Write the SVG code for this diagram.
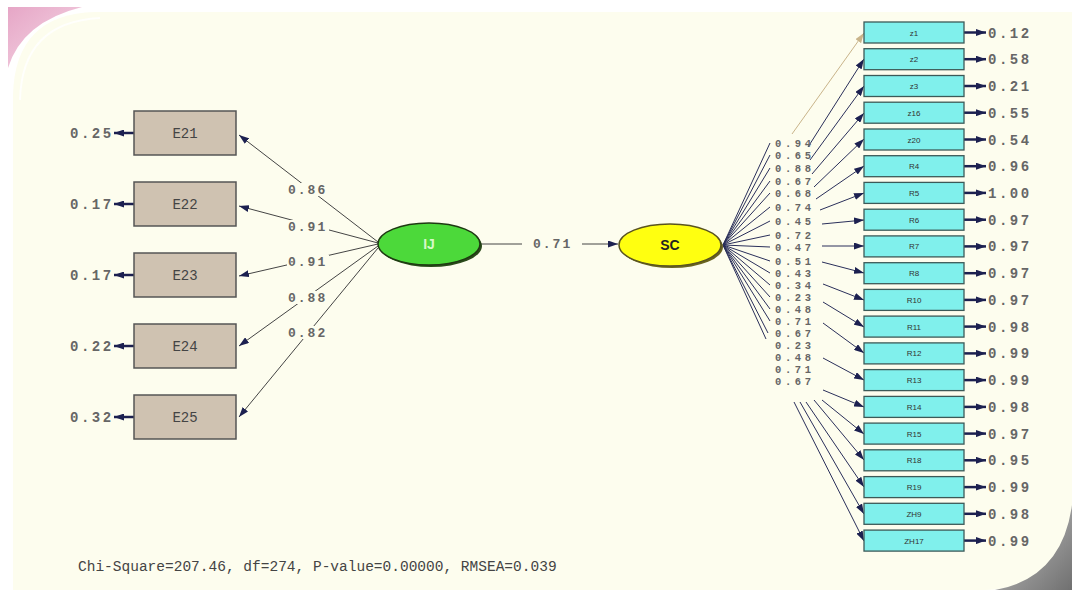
<svg xmlns="http://www.w3.org/2000/svg" width="1072" height="590" viewBox="0 0 1072 590">
<defs>
<linearGradient id="pink" x1="0" y1="0" x2="1" y2="1">
<stop offset="0" stop-color="#e6a6c6"/><stop offset="1" stop-color="#f6dbe8"/>
</linearGradient>
<linearGradient id="gray" x1="0" y1="0" x2="1" y2="1">
<stop offset="0" stop-color="#c8c8c8"/><stop offset="1" stop-color="#707070"/>
</linearGradient>
<marker id="ah" viewBox="0 0 10 7" refX="10" refY="3.5" markerWidth="10" markerHeight="7" markerUnits="userSpaceOnUse" orient="auto">
<path d="M0,0 L10,3.5 L0,7 z" fill="#1c2050"/>
</marker>
<marker id="ahl" viewBox="0 0 10 7" refX="10" refY="3.5" markerWidth="10" markerHeight="7" markerUnits="userSpaceOnUse" orient="auto">
<path d="M0,0 L10,3.5 L0,7 z" fill="#c9b48a"/>
</marker>
<style>
.num{font-family:"Liberation Mono","Courier New",monospace;font-size:13px;letter-spacing:2px;fill:#666;font-weight:bold}
.rnum{font-family:"Liberation Mono","Courier New",monospace;font-size:10.5px;letter-spacing:3.6px;fill:#666;font-weight:bold}
.err{font-family:"Liberation Mono","Courier New",monospace;font-size:14px;letter-spacing:2.5px;fill:#666;font-weight:bold}
.lbl{font-family:"Liberation Mono","Courier New",monospace;font-size:14px;fill:#444;text-anchor:middle}
.slbl{font-family:"Liberation Sans",Arial,sans-serif;font-size:8px;fill:#333;text-anchor:middle}
.ebox{fill:#cfc2b1;stroke:#555;stroke-width:1.5}
.rbox{fill:#80f0ec;stroke:#3c5a58;stroke-width:1.3}
.ln{stroke:#444;stroke-width:1;fill:none}
.rl{stroke:#2a2f5a;stroke-width:1;fill:none}
.ea{stroke:#1c2050;stroke-width:2.5;fill:none}
.bg{fill:#fdfdee}
</style>
</defs>
<rect width="1072" height="590" fill="#ffffff"/>
<path d="M8,7 L82,7 Q22,22 8,68 Z" fill="url(#pink)"/>
<path d="M13,95 Q15,14 95,12 L1072,12 L1072,505 Q1068,586 985,590 L13,590 Z" class="bg"/>
<path d="M20,100 Q22,22 100,18" fill="none" stroke="#ffffff" stroke-width="2" opacity="0.8"/>
<path d="M995,590 Q1062,578 1072,505 L1072,590 Z" fill="url(#gray)"/>

<g id="connectors">
<line class="ln" x1="378" y1="242" x2="239" y2="135" marker-end="url(#ah)"/>
<line class="ln" x1="378" y1="243" x2="239" y2="206" marker-end="url(#ah)"/>
<line class="ln" x1="378" y1="244" x2="239" y2="276" marker-end="url(#ah)"/>
<line class="ln" x1="378" y1="246" x2="239" y2="346" marker-end="url(#ah)"/>
<line class="ln" x1="378" y1="248" x2="239" y2="417" marker-end="url(#ah)"/>
<line class="ea" x1="134" y1="133" x2="114" y2="133" marker-end="url(#ah)"/>
<line class="ea" x1="134" y1="204" x2="114" y2="204" marker-end="url(#ah)"/>
<line class="ea" x1="134" y1="275" x2="114" y2="275" marker-end="url(#ah)"/>
<line class="ea" x1="134" y1="346" x2="114" y2="346" marker-end="url(#ah)"/>
<line class="ea" x1="134" y1="417" x2="114" y2="417" marker-end="url(#ah)"/>
<line class="ln" x1="481" y1="244" x2="522" y2="244"/>
<line class="ln" x1="582" y1="244" x2="618" y2="244" marker-end="url(#ah)"/>
<g class="rl">
<line x1="723" y1="245" x2="770" y2="143"/>
<line x1="723" y1="245" x2="770" y2="155"/>
<line x1="723" y1="245" x2="770" y2="168"/>
<line x1="723" y1="245" x2="770" y2="181"/>
<line x1="723" y1="245" x2="770" y2="193"/>
<line x1="723" y1="245" x2="770" y2="207"/>
<line x1="723" y1="245" x2="770" y2="221"/>
<line x1="723" y1="245" x2="770" y2="235"/>
<line x1="723" y1="245" x2="770" y2="247"/>
<line x1="723" y1="245" x2="770" y2="261"/>
<line x1="723" y1="245" x2="770" y2="273"/>
<line x1="723" y1="245" x2="770" y2="285"/>
<line x1="723" y1="245" x2="770" y2="297"/>
<line x1="723" y1="245" x2="770" y2="309"/>
<line x1="723" y1="245" x2="770" y2="321"/>
<line x1="723" y1="245" x2="768" y2="333"/>
<line x1="723" y1="245" x2="766" y2="339"/>
</g>
<line x1="792" y1="134" x2="864" y2="33" stroke="#c9b48a" stroke-width="1" marker-end="url(#ahl)"/>
<line class="rl" x1="808" y1="147" x2="864" y2="59" marker-end="url(#ah)"/>
<line class="rl" x1="810" y1="160" x2="864" y2="86" marker-end="url(#ah)"/>
<line class="rl" x1="812" y1="174" x2="864" y2="113" marker-end="url(#ah)"/>
<line class="rl" x1="814" y1="187" x2="864" y2="139" marker-end="url(#ah)"/>
<line class="rl" x1="816" y1="199" x2="864" y2="166" marker-end="url(#ah)"/>
<line class="rl" x1="820" y1="210" x2="864" y2="193" marker-end="url(#ah)"/>
<line class="rl" x1="822" y1="224" x2="864" y2="220" marker-end="url(#ah)"/>
<line class="rl" x1="822" y1="246" x2="864" y2="246" marker-end="url(#ah)"/>
<line class="rl" x1="822" y1="262" x2="864" y2="273" marker-end="url(#ah)"/>
<line class="rl" x1="823" y1="284" x2="864" y2="300" marker-end="url(#ah)"/>
<line class="rl" x1="823" y1="302" x2="864" y2="327" marker-end="url(#ah)"/>
<line class="rl" x1="823" y1="323" x2="864" y2="353" marker-end="url(#ah)"/>
<line class="rl" x1="823" y1="358" x2="864" y2="380" marker-end="url(#ah)"/>
<line class="rl" x1="823" y1="390" x2="864" y2="407" marker-end="url(#ah)"/>
<line class="rl" x1="822" y1="400" x2="864" y2="434" marker-end="url(#ah)"/>
<line class="rl" x1="814" y1="400" x2="864" y2="460" marker-end="url(#ah)"/>
<line class="rl" x1="806" y1="402" x2="864" y2="487" marker-end="url(#ah)"/>
<line class="rl" x1="800" y1="402" x2="864" y2="514" marker-end="url(#ah)"/>
<line class="rl" x1="794" y1="402" x2="864" y2="541" marker-end="url(#ah)"/>
<g class="ea">
<line x1="964" y1="32.5" x2="986" y2="32.5" marker-end="url(#ah)"/>
<line x1="964" y1="59.2" x2="986" y2="59.2" marker-end="url(#ah)"/>
<line x1="964" y1="86" x2="986" y2="86" marker-end="url(#ah)"/>
<line x1="964" y1="112.7" x2="986" y2="112.7" marker-end="url(#ah)"/>
<line x1="964" y1="139.5" x2="986" y2="139.5" marker-end="url(#ah)"/>
<line x1="964" y1="166.2" x2="986" y2="166.2" marker-end="url(#ah)"/>
<line x1="964" y1="192.9" x2="986" y2="192.9" marker-end="url(#ah)"/>
<line x1="964" y1="219.7" x2="986" y2="219.7" marker-end="url(#ah)"/>
<line x1="964" y1="246.4" x2="986" y2="246.4" marker-end="url(#ah)"/>
<line x1="964" y1="273.2" x2="986" y2="273.2" marker-end="url(#ah)"/>
<line x1="964" y1="299.9" x2="986" y2="299.9" marker-end="url(#ah)"/>
<line x1="964" y1="326.6" x2="986" y2="326.6" marker-end="url(#ah)"/>
<line x1="964" y1="353.4" x2="986" y2="353.4" marker-end="url(#ah)"/>
<line x1="964" y1="380.1" x2="986" y2="380.1" marker-end="url(#ah)"/>
<line x1="964" y1="406.9" x2="986" y2="406.9" marker-end="url(#ah)"/>
<line x1="964" y1="433.6" x2="986" y2="433.6" marker-end="url(#ah)"/>
<line x1="964" y1="460.3" x2="986" y2="460.3" marker-end="url(#ah)"/>
<line x1="964" y1="487.1" x2="986" y2="487.1" marker-end="url(#ah)"/>
<line x1="964" y1="513.8" x2="986" y2="513.8" marker-end="url(#ah)"/>
<line x1="964" y1="540.6" x2="986" y2="540.6" marker-end="url(#ah)"/>
</g>
<rect class="bg" x="287" y="183" width="42" height="13"/>
<text class="num" x="288" y="194">0.86</text>
<rect class="bg" x="287" y="220" width="42" height="13"/>
<text class="num" x="288" y="231">0.91</text>
<rect class="bg" x="287" y="255" width="42" height="13"/>
<text class="num" x="288" y="266">0.91</text>
<rect class="bg" x="287" y="291" width="42" height="13"/>
<text class="num" x="288" y="302">0.88</text>
<rect class="bg" x="287" y="326" width="42" height="13"/>
<text class="num" x="288" y="337">0.82</text>
<text class="num" x="533" y="248">0.71</text>
<text class="rnum" x="775" y="147">0.94</text>
<text class="rnum" x="775" y="159">0.65</text>
<text class="rnum" x="775" y="172">0.88</text>
<text class="rnum" x="775" y="185">0.67</text>
<text class="rnum" x="775" y="197">0.68</text>
<text class="rnum" x="775" y="211">0.74</text>
<text class="rnum" x="775" y="225">0.45</text>
<text class="rnum" x="775" y="239">0.72</text>
<text class="rnum" x="775" y="251">0.47</text>
<text class="rnum" x="775" y="265">0.51</text>
<text class="rnum" x="775" y="277">0.43</text>
<text class="rnum" x="775" y="289">0.34</text>
<text class="rnum" x="775" y="301">0.23</text>
<text class="rnum" x="775" y="313">0.48</text>
<text class="rnum" x="775" y="325">0.71</text>
<text class="rnum" x="775" y="337">0.67</text>
<text class="rnum" x="775" y="349">0.23</text>
<text class="rnum" x="775" y="361">0.48</text>
<text class="rnum" x="775" y="373">0.71</text>
<text class="rnum" x="775" y="385">0.67</text>
</g>

<g id="node-E21"><rect class="ebox" x="134" y="111" width="102" height="44"/><text class="lbl" x="185" y="138">E21</text><text class="err" x="70" y="138">0.25</text></g>
<g id="node-E22"><rect class="ebox" x="134" y="182" width="102" height="44"/><text class="lbl" x="185" y="209">E22</text><text class="err" x="70" y="209">0.17</text></g>
<g id="node-E23"><rect class="ebox" x="134" y="253" width="102" height="44"/><text class="lbl" x="185" y="280">E23</text><text class="err" x="70" y="280">0.17</text></g>
<g id="node-E24"><rect class="ebox" x="134" y="324" width="102" height="44"/><text class="lbl" x="185" y="351">E24</text><text class="err" x="70" y="351">0.22</text></g>
<g id="node-E25"><rect class="ebox" x="134" y="395" width="102" height="44"/><text class="lbl" x="185" y="422">E25</text><text class="err" x="70" y="422">0.32</text></g>

<g id="node-IJ">
<ellipse cx="431" cy="246" rx="51" ry="21" fill="#2a4a1a"/>
<ellipse cx="429" cy="244" rx="51" ry="21" fill="#4cd93a" stroke="#1e3a12" stroke-width="1.5"/>
<text x="429" y="249" font-family="Liberation Sans,Arial,sans-serif" font-size="14" font-weight="bold" fill="#d8f8c8" text-anchor="middle">IJ</text>
</g>
<g id="node-SC">
<ellipse cx="672" cy="247" rx="51" ry="21" fill="#6a6420"/>
<ellipse cx="670" cy="245" rx="51" ry="21" fill="#ffff10" stroke="#5a5420" stroke-width="1.5"/>
<text x="670" y="250" font-family="Liberation Sans,Arial,sans-serif" font-size="14" font-weight="bold" fill="#222" text-anchor="middle">SC</text>
</g>

<g id="node-z1"><rect class="rbox" x="864" y="22" width="100" height="21"/><text class="slbl" x="914" y="35.5">z1</text><text class="err" x="988" y="37.5">0.12</text></g>
<g id="node-z2"><rect class="rbox" x="864" y="48.7" width="100" height="21"/><text class="slbl" x="914" y="62.2">z2</text><text class="err" x="988" y="64.2">0.58</text></g>
<g id="node-z3"><rect class="rbox" x="864" y="75.5" width="100" height="21"/><text class="slbl" x="914" y="89">z3</text><text class="err" x="988" y="91">0.21</text></g>
<g id="node-z16"><rect class="rbox" x="864" y="102.2" width="100" height="21"/><text class="slbl" x="914" y="115.7">z16</text><text class="err" x="988" y="117.7">0.55</text></g>
<g id="node-z20"><rect class="rbox" x="864" y="129" width="100" height="21"/><text class="slbl" x="914" y="142.5">z20</text><text class="err" x="988" y="144.5">0.54</text></g>
<g id="node-R4"><rect class="rbox" x="864" y="155.7" width="100" height="21"/><text class="slbl" x="914" y="169.2">R4</text><text class="err" x="988" y="171.2">0.96</text></g>
<g id="node-R5"><rect class="rbox" x="864" y="182.4" width="100" height="21"/><text class="slbl" x="914" y="195.9">R5</text><text class="err" x="988" y="197.9">1.00</text></g>
<g id="node-R6"><rect class="rbox" x="864" y="209.2" width="100" height="21"/><text class="slbl" x="914" y="222.7">R6</text><text class="err" x="988" y="224.7">0.97</text></g>
<g id="node-R7"><rect class="rbox" x="864" y="235.9" width="100" height="21"/><text class="slbl" x="914" y="249.4">R7</text><text class="err" x="988" y="251.4">0.97</text></g>
<g id="node-R8"><rect class="rbox" x="864" y="262.7" width="100" height="21"/><text class="slbl" x="914" y="276.2">R8</text><text class="err" x="988" y="278.2">0.97</text></g>
<g id="node-R10"><rect class="rbox" x="864" y="289.4" width="100" height="21"/><text class="slbl" x="914" y="302.9">R10</text><text class="err" x="988" y="304.9">0.97</text></g>
<g id="node-R11"><rect class="rbox" x="864" y="316.1" width="100" height="21"/><text class="slbl" x="914" y="329.6">R11</text><text class="err" x="988" y="331.6">0.98</text></g>
<g id="node-R12"><rect class="rbox" x="864" y="342.9" width="100" height="21"/><text class="slbl" x="914" y="356.4">R12</text><text class="err" x="988" y="358.4">0.99</text></g>
<g id="node-R13"><rect class="rbox" x="864" y="369.6" width="100" height="21"/><text class="slbl" x="914" y="383.1">R13</text><text class="err" x="988" y="385.1">0.99</text></g>
<g id="node-R14"><rect class="rbox" x="864" y="396.4" width="100" height="21"/><text class="slbl" x="914" y="409.9">R14</text><text class="err" x="988" y="411.9">0.98</text></g>
<g id="node-R15"><rect class="rbox" x="864" y="423.1" width="100" height="21"/><text class="slbl" x="914" y="436.6">R15</text><text class="err" x="988" y="438.6">0.97</text></g>
<g id="node-R18"><rect class="rbox" x="864" y="449.8" width="100" height="21"/><text class="slbl" x="914" y="463.3">R18</text><text class="err" x="988" y="465.3">0.95</text></g>
<g id="node-R19"><rect class="rbox" x="864" y="476.6" width="100" height="21"/><text class="slbl" x="914" y="490.1">R19</text><text class="err" x="988" y="492.1">0.99</text></g>
<g id="node-ZH9"><rect class="rbox" x="864" y="503.3" width="100" height="21"/><text class="slbl" x="914" y="516.8">ZH9</text><text class="err" x="988" y="518.8">0.98</text></g>
<g id="node-ZH17"><rect class="rbox" x="864" y="530.1" width="100" height="21"/><text class="slbl" x="914" y="543.6">ZH17</text><text class="err" x="988" y="545.6">0.99</text></g>

<text x="78" y="571" font-family="Liberation Mono,Courier New,monospace" font-size="14.5" fill="#444">Chi-Square=207.46, df=274, P-value=0.00000, RMSEA=0.039</text>
</svg>
